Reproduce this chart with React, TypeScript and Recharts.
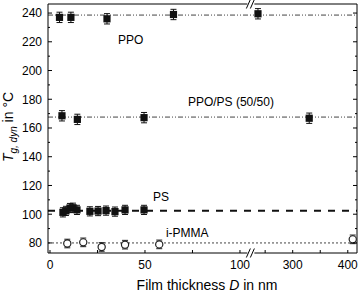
import { ScatterChart, Scatter, XAxis, YAxis, ErrorBar, ReferenceLine, ReferenceDot } from "recharts";

const FONT = "'Liberation Sans', Arial, Helvetica, sans-serif";

// film thickness D (nm) and dynamic Tg (°C) per system
const ppoD = [5, 11, 30, 65, 237];
const ppoTg = [237, 237, 236, 239, 239.5];
const blendD = [6.3, 14.4, 49.5, 330];
const blendTg = [168.5, 166, 167.2, 166.8];
const psD = [6.8, 8.4, 10.5, 12.1, 14.2, 21, 25.3, 29.5, 34.2, 39.5, 49.5];
const psTg = [101.3, 102.3, 104.3, 104.5, 103, 102, 102.2, 102.5, 101.8, 103, 103];
const pmmaD = [9.1, 17.5, 27.2, 39.5, 57.5, 409];
const pmmaTg = [79.6, 80.4, 77.2, 78.8, 79, 82.5];

// bulk Tg levels (horizontal guide lines)
const bulkTg = [238.6, 167.6, 102.4, 80];
const seriesNames = ["PPO", "PPO/PS (50/50)", "PS", "i-PMMA"];
// where each name sits, in data units (D, Tg)
const nameD = [35.8, 72.6, 54.2, 61];
const nameTg = [221.2, 178, 111.9, 86.8];

const xTicksD = [0, 25, 50, 75, 100, 250, 300, 350, 400];
const xLabelsD = [0, 50, 100, 300, 400];
const yTicks = [80, 90, 100, 110, 120, 130, 140, 150, 160, 170, 180, 190, 200, 210, 220, 230, 240];

// broken axis: 0..106 linear, then 225..420 compressed
const BREAK = 106;
const tX = (d: number) => (d <= BREAK ? d : BREAK + (d - 225) * 0.29);

const toRows = (ds: number[], ts: number[], e: number) =>
  ds.map((d, i) => ({ x: tX(d), y: ts[i], e }));

const ppo = toRows(ppoD, ppoTg, 3.6);
const blend = toRows(blendD, blendTg, 3.6);
const ps = toRows(psD, psTg, 3.2);
const pmma = toRows(pmmaD, pmmaTg, 3);

const X_DOMAIN = [-1.05, 161.6];
const Y_DOMAIN = [73, 246.3];

function Square({ cx, cy }: any) {
  return <rect x={cx - 3.6} y={cy - 3.6} width={7.2} height={7.2} fill="#111" />;
}

function Ring({ cx, cy }: any) {
  return <circle cx={cx} cy={cy} r={3.6} fill="#fff" stroke="#222" strokeWidth={1.2} />;
}

function LeftTick({ x, y, payload }: any) {
  const major = payload.value % 20 === 0;
  return (
    <g>
      <line x1={x} x2={x + (major ? 4 : 2)} y1={y} y2={y} stroke="#000" />
      {major && (
        <text x={x - 6} y={y} dy={4.3} textAnchor="end" fontSize={12} fontFamily={FONT} fill="#000">
          {payload.value}
        </text>
      )}
    </g>
  );
}

function RightTick({ x, y, payload }: any) {
  const major = payload.value % 20 === 0;
  return <line x1={x} x2={x - (major ? 4 : 2)} y1={y} y2={y} stroke="#000" />;
}

function BottomTick({ x, y, index }: any) {
  const d = xTicksD[index];
  return (
    <g>
      <line x1={x} x2={x} y1={y} y2={y - 3} stroke="#000" />
      {xLabelsD.includes(d) && (
        <text x={x} y={y + 16} textAnchor="middle" fontSize={12} fontFamily={FONT} fill="#000">
          {d}
        </text>
      )}
    </g>
  );
}

function TopTick({ x, y }: any) {
  return <line x1={x} x2={x} y1={y} y2={y + 3} stroke="#000" />;
}

function BreakMark({ cx, cy }: any) {
  return (
    <g>
      <rect x={cx - 4} y={cy - 1.5} width={7} height={3} fill="#fff" />
      <line x1={cx - 5} y1={cy + 4.5} x2={cx - 1} y2={cy - 4.5} stroke="#000" />
      <line x1={cx - 1} y1={cy + 4.5} x2={cx + 3} y2={cy - 4.5} stroke="#000" />
    </g>
  );
}

const yTitle = () => (
  <text transform="translate(13,127) rotate(-90)" textAnchor="middle" fontSize={14} fontFamily={FONT} fill="#000">
    <tspan fontStyle="italic">T</tspan>
    <tspan fontStyle="italic" fontSize={10} dy={3.5}>g, dyn</tspan>
    <tspan dy={-3.5}> in °C</tspan>
  </text>
);

const xTitle = () => (
  <text x={207} y={290} textAnchor="middle" fontSize={14} fontFamily={FONT} fill="#000">
    Film thickness <tspan fontStyle="italic">D</tspan> in nm
  </text>
);

const guideStyles = [
  { stroke: "#444", strokeWidth: 1, strokeDasharray: "5 2 1 2 1 2" },
  { stroke: "#444", strokeWidth: 1, strokeDasharray: "5 2 1 2 1 2" },
  { stroke: "#111", strokeWidth: 2, strokeDasharray: "7 7" },
  { stroke: "#444", strokeWidth: 1, strokeDasharray: "2 2" },
];

export default function App() {
  return (
    <div style={{ position: "absolute", left: 0, top: 0, background: "#fff" }}>
      <ScatterChart width={360} height={292} margin={{ top: 0, right: 0, bottom: 0, left: 0 }}>
        <XAxis
          type="number"
          dataKey="x"
          domain={X_DOMAIN}
          allowDataOverflow
          ticks={xTicksD.map(tX)}
          interval={0}
          tick={<BottomTick />}
          tickLine={false}
          tickSize={0}
          tickMargin={0}
          height={39}
          axisLine={{ stroke: "#000" }}
          label={xTitle}
        />
        <XAxis
          xAxisId="top"
          orientation="top"
          type="number"
          domain={X_DOMAIN}
          allowDataOverflow
          ticks={xTicksD.map(tX)}
          interval={0}
          tick={<TopTick />}
          tickLine={false}
          tickSize={0}
          tickMargin={0}
          height={4}
          axisLine={{ stroke: "#000" }}
        />
        <YAxis
          type="number"
          dataKey="y"
          domain={Y_DOMAIN}
          allowDataOverflow
          ticks={yTicks}
          interval={0}
          tick={<LeftTick />}
          tickLine={false}
          tickSize={0}
          tickMargin={0}
          width={48}
          axisLine={{ stroke: "#000" }}
          label={yTitle}
        />
        <YAxis
          yAxisId="right"
          orientation="right"
          type="number"
          domain={Y_DOMAIN}
          allowDataOverflow
          ticks={yTicks}
          interval={0}
          tick={<RightTick />}
          tickLine={false}
          tickSize={0}
          tickMargin={0}
          width={3}
          axisLine={{ stroke: "#000" }}
        />

        {bulkTg.map((v, i) => (
          <ReferenceLine key={seriesNames[i]} y={v} {...guideStyles[i]} />
        ))}

        {seriesNames.map((name, i) => (
          <ReferenceDot
            key={"lbl" + name}
            x={tX(nameD[i])}
            y={nameTg[i]}
            ifOverflow="visible"
            shape={({ cx, cy }: any) => (
              <text x={cx} y={cy} dy={4.3} fontSize={12} fontFamily={FONT} fill="#000">
                {name}
              </text>
            )}
          />
        ))}

        <Scatter data={pmma} shape={<Ring />} isAnimationActive={false}>
          <ErrorBar dataKey="e" direction="y" width={3} stroke="#222" strokeWidth={1} />
        </Scatter>
        <Scatter data={ppo} shape={<Square />} isAnimationActive={false}>
          <ErrorBar dataKey="e" direction="y" width={3} stroke="#111" strokeWidth={1} />
        </Scatter>
        <Scatter data={blend} shape={<Square />} isAnimationActive={false}>
          <ErrorBar dataKey="e" direction="y" width={3} stroke="#111" strokeWidth={1} />
        </Scatter>
        <Scatter data={ps} shape={<Square />} isAnimationActive={false}>
          <ErrorBar dataKey="e" direction="y" width={3} stroke="#111" strokeWidth={1} />
        </Scatter>

        <ReferenceDot x={BREAK} y={Y_DOMAIN[0]} ifOverflow="visible" shape={<BreakMark />} />
        <ReferenceDot x={BREAK} y={Y_DOMAIN[1]} ifOverflow="visible" shape={<BreakMark />} />
      </ScatterChart>
    </div>
  );
}
